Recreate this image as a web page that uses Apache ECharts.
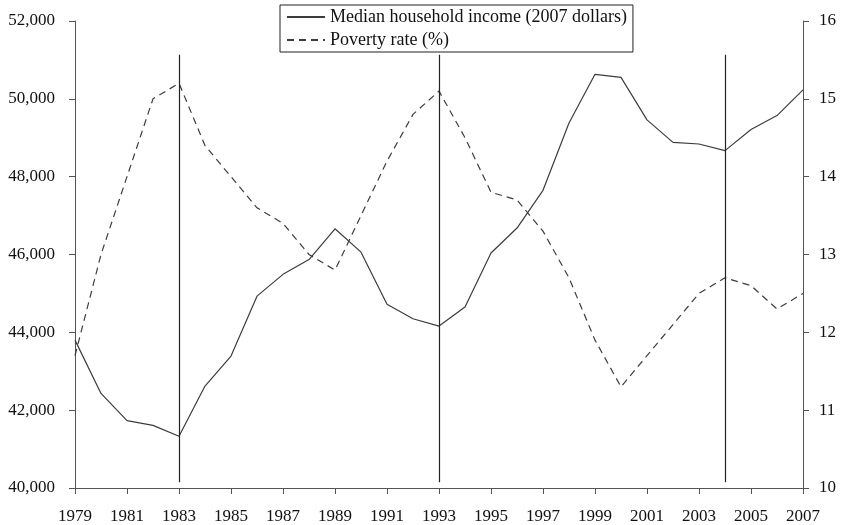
<!DOCTYPE html>
<html>
<head>
<meta charset="utf-8">
<script src="https://cdn.jsdelivr.net/npm/echarts@6/dist/echarts.min.js"></script>
<style>
  html, body { margin: 0; padding: 0; background: #fff; }
  #chart { width: 841px; height: 525px; }
</style>
</head>
<body>
<div id="chart"></div>
<script>
const years = []
for (let y = 1979; y <= 2007; y++) years.push(String(y))

// median household income, 2007 dollars
const income = [
  43800, 42430, 41730, 41610, 41330, 42620, 43390, 44930, 45490, 45870,
  46660, 46060, 44720, 44350, 44160, 44650, 46040, 46680, 47650, 49380,
  50630, 50550, 49460, 48880, 48840, 48670, 49210, 49570, 50230
]

// poverty rate, %
const poverty = [
  11.7, 13.0, 14.0, 15.0, 15.2, 14.4, 14.0, 13.6, 13.4, 13.0,
  12.8, 13.5, 14.2, 14.8, 15.1, 14.5, 13.8, 13.7, 13.3, 12.7,
  11.9, 11.3, 11.7, 12.1, 12.5, 12.7, 12.6, 12.3, 12.5
]

// vertical marker years and their extent on the income axis
const markerYears = ['1983', '1993', '2004']
const markerSpan = [40150, 51130]

const font = 'Liberation Serif, Times New Roman, serif'
const axisColor = '#555'

const chart = echarts.init(document.getElementById('chart'))

chart.setOption({
  animation: false,
  textStyle: { fontFamily: font },
  grid: { left: 75, right: 38, top: 21, bottom: 36 },
  legend: {
    left: 280,
    top: 5,
    orient: 'vertical',
    borderColor: '#222',
    borderWidth: 1,
    padding: [3, 6, 3, 6],
    itemGap: 5,
    itemWidth: 38,
    itemHeight: 18,
    itemStyle: { opacity: 0 },
    textStyle: { fontFamily: font, fontSize: 18, color: '#111' },
    data: ['Median household income (2007 dollars)', 'Poverty rate (%)']
  },
  xAxis: {
    type: 'category',
    boundaryGap: false,
    data: years,
    axisLine: { lineStyle: { color: axisColor } },
    axisTick: { interval: 1, length: 6, lineStyle: { color: axisColor } },
    axisLabel: { interval: 1, fontSize: 17, color: '#111', margin: 20 },
    splitLine: { show: false }
  },
  yAxis: [
    {
      type: 'value',
      min: 40000,
      max: 52000,
      interval: 2000,
      axisLine: { show: true, lineStyle: { color: axisColor } },
      axisTick: { show: true, length: 6, lineStyle: { color: axisColor } },
      axisLabel: {
        fontSize: 17,
        color: '#111',
        margin: 20,
        formatter: v => v.toLocaleString('en-US')
      },
      splitLine: { show: false }
    },
    {
      type: 'value',
      min: 10,
      max: 16,
      interval: 1,
      position: 'right',
      axisLine: { show: true, lineStyle: { color: axisColor } },
      axisTick: { show: true, length: 6, lineStyle: { color: axisColor } },
      axisLabel: { fontSize: 17, color: '#111', margin: 16 },
      splitLine: { show: false }
    }
  ],
  series: [
    {
      name: 'Median household income (2007 dollars)',
      type: 'line',
      yAxisIndex: 0,
      data: income,
      symbol: 'none',
      lineStyle: { color: '#3c3c3c', width: 1.2 },
      itemStyle: { color: '#3c3c3c' },
      markLine: {
        silent: true,
        symbol: 'none',
        label: { show: false },
        lineStyle: { color: '#222', width: 1.2, type: 'solid' },
        data: markerYears.map(y => [
          { coord: [y, markerSpan[0]] },
          { coord: [y, markerSpan[1]] }
        ])
      }
    },
    {
      name: 'Poverty rate (%)',
      type: 'line',
      yAxisIndex: 1,
      data: poverty,
      symbol: 'none',
      lineStyle: { color: '#3c3c3c', width: 1.2, type: [7, 5] },
      itemStyle: { color: '#3c3c3c' }
    }
  ]
})
</script>
</body>
</html>
